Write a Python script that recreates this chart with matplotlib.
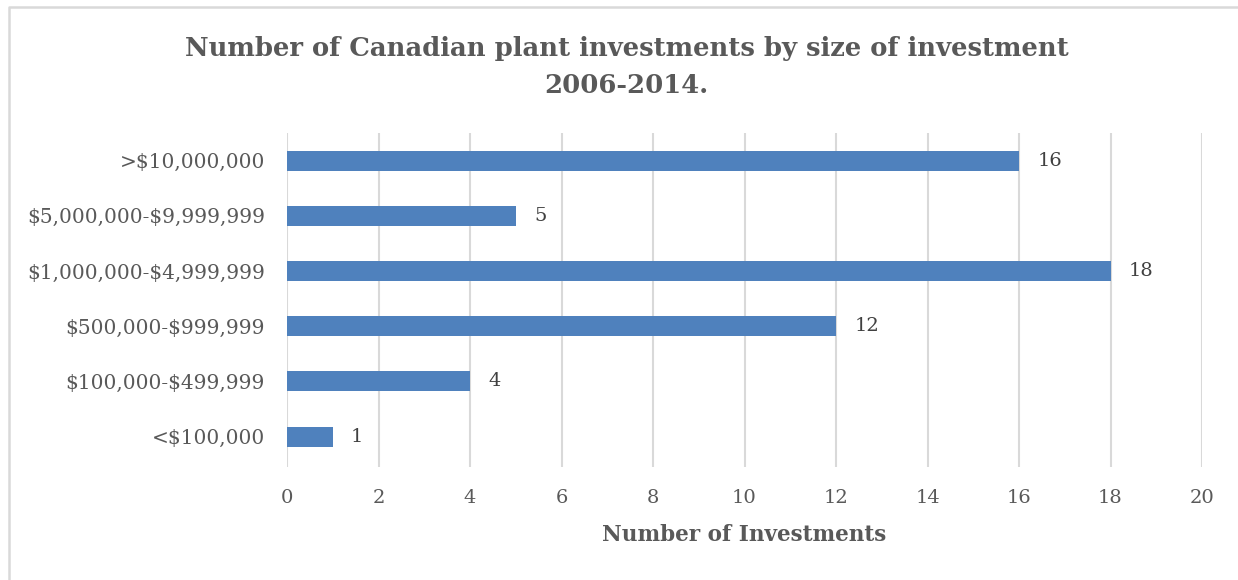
import numpy as np
import matplotlib
matplotlib.use("Agg")
import matplotlib.pyplot as plt
from matplotlib.lines import Line2D

# data, bottom to top
categories = ["<$100,000", "$100,000-$499,999", "$500,000-$999,999",
              "$1,000,000-$4,999,999", "$5,000,000-$9,999,999", ">$10,000,000"]
counts = [1, 4, 12, 18, 5, 16]
x_ticks = [0, 2, 4, 6, 8, 10, 12, 14, 16, 18, 20]

plt.rcParams['font.family'] = ['DejaVu Serif']
plt.rcParams['text.parse_math'] = False

fig = plt.figure(figsize=(12.38, 5.8), dpi=100)
# outer chart border (only top and left visible in the crop)
fig.lines.append(Line2D([8.5/1238, 8.5/1238, 1], [0, 1-6.5/580, 1-6.5/580], transform=fig.transFigure,
                        color="#D9D9D9", linewidth=1.8))

ax = fig.add_axes([287/1238, 1-467/580, 915/1238, 334/580])
y = np.arange(len(categories))
bars = ax.barh(y, counts, height=0.36, color="#4F81BD", zorder=3)

ax.set_xlim(0, 20)
ax.set_ylim(-0.55, 5.5)
ax.set_xticks(x_ticks)
ax.set_yticks(y)
ax.set_yticklabels(categories)
ax.grid(axis="x", color="#D9D9D9", linewidth=1.5, zorder=0)
ax.tick_params(axis="both", length=0, colors="#595959")
ax.tick_params(axis="x", pad=16, labelsize=14)
ax.tick_params(axis="y", pad=16, labelsize=14.5)
for s in ax.spines.values():
    s.set_visible(False)

for b, v in zip(bars, counts):
    ax.text(v + 0.4, b.get_y() + b.get_height()/2, str(v), va="center", ha="left",
            fontsize=14, color="#404040")

ax.set_xlabel("Number of Investments", fontsize=15.5, fontweight="bold", color="#595959", labelpad=12)

fig.text(0.506, 1-67/580, "Number of Canadian plant investments by size of investment\n2006-2014.",
         ha="center", va="center", fontsize=18.6, fontweight="bold", color="#595959", linespacing=1.62)

fig.savefig("out.png", dpi=100)
